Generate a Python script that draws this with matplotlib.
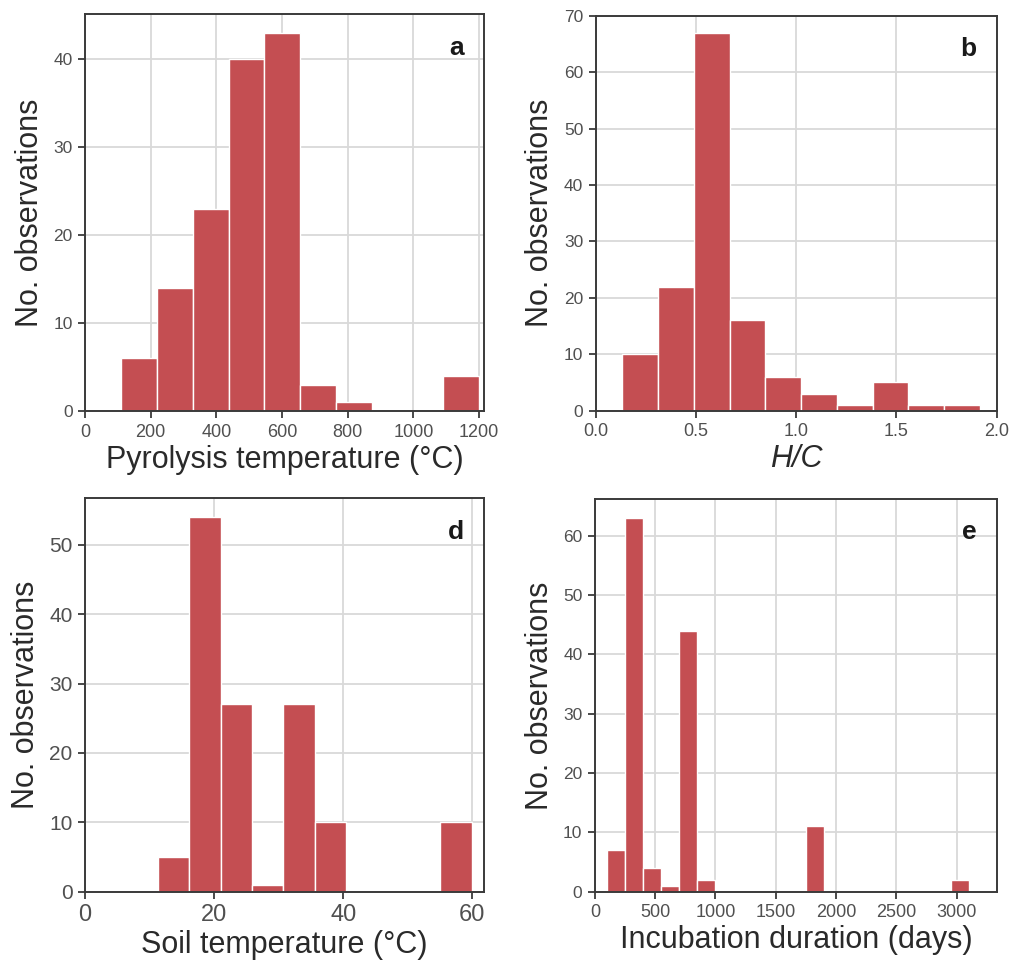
import numpy as np
import matplotlib
matplotlib.use("Agg")
import matplotlib.pyplot as plt

plt.rcParams['font.family'] = ['Liberation Sans', 'DejaVu Sans']

# histogram counts
pyro_counts = [6, 14, 23, 40, 43, 3, 1, 0, 0, 4]
pyro_range = [110, 1200]

hc_counts = [10, 22, 67, 16, 6, 3, 1, 5, 1, 1]
hc_range = [0.133, 1.917]

soil_counts = [5, 54, 27, 1, 27, 10, 0, 0, 0, 10]
soil_range = [11.3, 59.9]

incub_counts = [7, 63, 4, 1, 44, 2, 0, 0, 0, 0, 0, 11, 0, 0, 0, 0, 0, 0, 0, 2]
incub_range = [100, 3100]

BAR = '#c44e52'
SPINE = '#3a3a3a'
GRID = '#d9d9d9'


def draw_hist(ax, counts, rng, letter, xlabel, xticks, yticks, xlim, ylim,
              xtick_size=13, ytick_size=12.5, italic=False):
    edges = np.linspace(rng[0], rng[1], len(counts) + 1)
    ax.bar(edges[:-1], counts, width=np.diff(edges), align='edge',
           color=BAR, edgecolor='white', linewidth=1.0, zorder=2)
    ax.set_xlim(*xlim)
    ax.set_ylim(*ylim)
    ax.set_xticks(xticks)
    ax.set_yticks(yticks)
    ax.grid(True, color=GRID, linewidth=1.3, zorder=0)
    ax.set_axisbelow(True)
    for s in ax.spines.values():
        s.set_color(SPINE)
        s.set_linewidth(1.4)
    ax.tick_params(axis='x', direction='out', length=5, width=1.3, color=SPINE,
                   labelsize=xtick_size, labelcolor='#505050', pad=4)
    ax.tick_params(axis='y', direction='out', length=5, width=1.3, color=SPINE,
                   labelsize=ytick_size, labelcolor='#505050', pad=4)
    ax.set_ylabel('No. observations', fontsize=22, color='#2a2a2a', labelpad=6)
    ax.set_xlabel(xlabel, fontsize=22, color='#2a2a2a', labelpad=3,
                  fontstyle='italic' if italic else 'normal')
    ax.text(0.95, 0.915, letter, transform=ax.transAxes, ha='right', va='center',
            fontsize=19, fontweight='bold', color='#1a1a1a')


fig = plt.figure(figsize=(10.10, 9.66), dpi=100)
ax_a = fig.add_axes([0.0842, 0.5745, 0.395, 0.411])
ax_b = fig.add_axes([0.5898, 0.5749, 0.397, 0.4086])
ax_d = fig.add_axes([0.0842, 0.0769, 0.395, 0.4072])
ax_e = fig.add_axes([0.589, 0.0769, 0.3983, 0.4065])

draw_hist(ax_a, pyro_counts, pyro_range, 'a', 'Pyrolysis temperature (°C)',
          [0, 200, 400, 600, 800, 1000, 1200], [0, 10, 20, 30, 40],
          (0, 1215), (0, 45.15))
draw_hist(ax_b, hc_counts, hc_range, 'b', 'H/C',
          [0.0, 0.5, 1.0, 1.5, 2.0], [0, 10, 20, 30, 40, 50, 60, 70],
          (0, 2.0), (0, 70), italic=True)
ax_b.xaxis.set_major_formatter(matplotlib.ticker.FormatStrFormatter('%.1f'))
draw_hist(ax_d, soil_counts, soil_range, 'd', 'Soil temperature (°C)',
          [0, 20, 40, 60], [0, 10, 20, 30, 40, 50],
          (0, 61.8), (0, 56.7), xtick_size=17, ytick_size=15)
draw_hist(ax_e, incub_counts, incub_range, 'e', 'Incubation duration (days)',
          [0, 500, 1000, 1500, 2000, 2500, 3000], [0, 10, 20, 30, 40, 50, 60],
          (0, 3337), (0, 66.15))

fig.savefig('out.png', dpi=100)
